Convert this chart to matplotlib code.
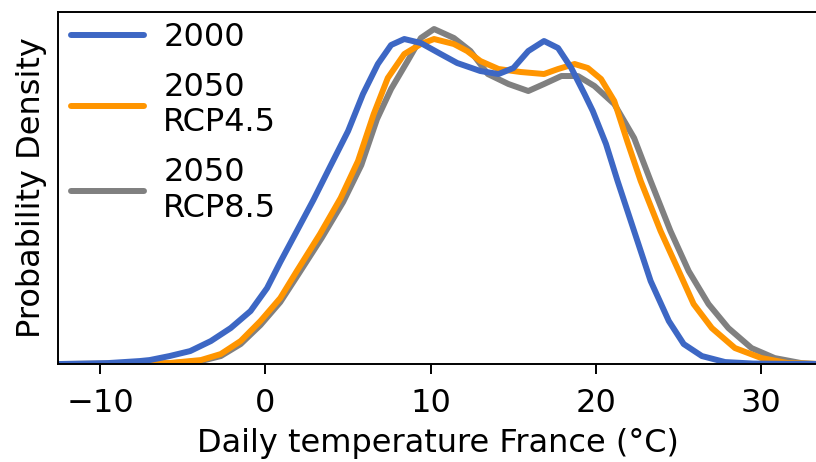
#daily temperature distributions, France
import numpy as np
import matplotlib
matplotlib.use("Agg")
import matplotlib.pyplot as plt

#values (density in arbitrary units, y ticks are hidden)
temp_2000 = [-12.6, -9.5, -7.6, -7.0, -5.8, -4.55, -3.3, -2.1, -0.9, 0.1, 0.9, 1.9, 2.9, 3.9, 5.0, 5.9,
             6.8, 7.6, 8.4, 9.4, 10.6, 11.6, 13.0, 14.1, 15.0, 15.9, 16.85, 17.7, 18.5, 19.3, 19.8,
             20.6, 21.3, 22.3, 23.3, 24.4, 25.3, 26.4, 27.8, 29.5, 33.5]
dens_2000 = [0, 1, 3, 4, 8, 13, 23, 36, 53, 76, 102, 133, 164, 197, 233, 270,
             300, 319, 325, 321, 310, 301, 293, 290, 296, 313, 323, 316, 296, 270, 253,
             220, 183, 133, 83, 43, 20, 8, 2, 0.5, 0]

temp_rcp45 = [-12.6, -7.6, -5.8, -3.9, -2.7, -1.5, -0.3, 0.9, 1.9, 3.3, 4.55, 5.6, 6.55, 7.4, 8.4,
              9.4, 10.2, 11.4, 12.2, 13.0, 14.1, 15.45, 16.85, 17.7, 18.7, 19.5, 20.3, 21.1, 21.9,
              22.7, 23.9, 25.0, 25.9, 27.0, 28.4, 30.0, 31.6, 33.5]
dens_rcp45 = [0, 0.5, 1, 4, 10, 23, 43, 66, 93, 130, 166, 203, 250, 286, 310,
              320, 325, 320, 313, 303, 295, 292, 290, 295, 300, 296, 285, 263, 222,
              183, 133, 93, 60, 36, 16, 6, 1, 0]

temp_rcp85 = [-12.6, -7.6, -5.8, -3.9, -2.7, -1.5, -0.3, 0.9, 2.0, 3.4, 4.7, 5.8, 6.75, 7.6, 8.6,
              9.4, 10.2, 11.4, 12.4, 13.45, 14.7, 15.9, 16.85, 17.9, 18.9, 19.9, 21.1, 22.3, 23.3,
              24.5, 25.6, 26.8, 28.0, 29.4, 30.8, 32.4, 33.5]
dens_rcp85 = [0, 0.3, 0.8, 3, 8, 20, 39, 62, 90, 126, 162, 199, 245, 275, 303,
              326, 335, 326, 313, 290, 280, 273, 280, 288, 288, 278, 260, 226, 183,
              133, 93, 60, 36, 16, 6, 1, 0]

labels = ["2000", "2050\nRCP4.5", "2050\nRCP8.5"]
colors = ["#3d67c4", "#ff9500", "#808080"]

plt.rcParams["font.family"] = "DejaVu Sans"
plt.rcParams["font.size"] = 23

fig = plt.figure(figsize=(8.16, 4.62), dpi=100)
ax = fig.add_axes([0.071, 0.212, 0.931, 0.762])

series = [(temp_2000, dens_2000), (temp_rcp45, dens_rcp45), (temp_rcp85, dens_rcp85)]
#draw grey first so blue ends up on top, like the original
for i in [2, 1, 0]:
    x, y = series[i]
    ax.plot(x, y, color=colors[i], lw=4.3, label=labels[i],
            solid_capstyle="round", solid_joinstyle="round")

handles, labs = ax.get_legend_handles_labels()
ax.legend(handles[::-1], labs[::-1], loc="upper left", bbox_to_anchor=(0, 1.008),
          frameon=False, handlelength=2.3, borderaxespad=0.0, labelspacing=0.58,
          handletextpad=0.6)

ax.set_xlim(-12.55, 33.4)
ax.set_ylim(0, 352)
ax.set_yticks([])
ax.set_xticks([-10, 0, 10, 20, 30])
ax.tick_params(axis="x", length=7, width=1.4, pad=10)
for s in ax.spines.values():
    s.set_linewidth(1.4)
ax.set_xlabel("Daily temperature France (°C)", labelpad=7)
ax.set_ylabel("Probability Density", labelpad=8)

fig.savefig("out.png", dpi=100)
